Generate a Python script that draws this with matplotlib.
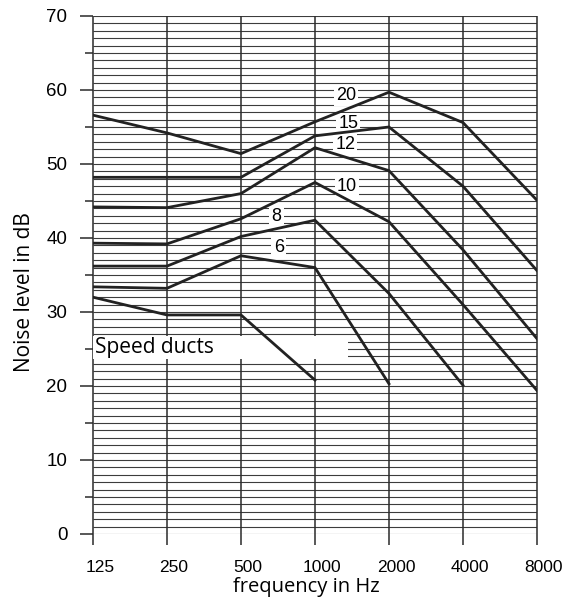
import matplotlib.pyplot as plt
import matplotlib.transforms as mtrans
from matplotlib.patches import Rectangle

# frequency bands (evenly spaced on the chart)
freqs = ['125', '250', '500', '1000', '2000', '4000', '8000']

# noise level in dB per duct speed (m/s)
noise_20 = [56.6, 54.2, 51.4, 55.7, 59.7, 55.6, 45.1]
noise_15 = [48.2, 48.2, 48.2, 53.8, 55.0, 47.0, 35.6]
noise_12 = [44.2, 44.1, 46.0, 52.2, 49.1, 38.4, 26.4]
noise_10 = [39.3, 39.2, 42.6, 47.5, 42.2, 31.0, 19.4]
noise_8 = [36.2, 36.2, 40.2, 42.4, 32.5, 20.1]
noise_6 = [33.4, 33.2, 37.6, 36.0, 20.3]
noise_low = [32.0, 29.6, 29.6, 20.8]

curves = [noise_20, noise_15, noise_12, noise_10, noise_8, noise_6, noise_low]

fig = plt.figure(figsize=(5.67, 6.01), dpi=100)
ax = fig.add_axes([0.164, 0.1115, 0.783, 0.8619])
ax.set_xlim(0, 6)
ax.set_ylim(0, 70)

# grid: a line every dB, plus the frequency lines running below the axis
ax.hlines(range(0, 71), 0, 6, color='#3c3c3c', lw=0.8, zorder=1)
ax.vlines(range(len(freqs)), -1.5, 70, color='#2a2a2a', lw=1.1,
          zorder=1, clip_on=False)

for s in ax.spines.values():
    s.set_visible(False)

ax.set_xticks(range(len(freqs)))
ax.set_xticklabels(freqs, fontfamily='Liberation Sans', fontsize=12.5)
ax.tick_params(axis='x', length=0, pad=18.5)
# labels sit a little right of their lines in the original
shift = mtrans.ScaledTranslation(7 / 100, 0, fig.dpi_scale_trans)
for lab in ax.get_xticklabels():
    lab.set_transform(lab.get_transform() + shift)

ax.set_yticks(range(0, 71, 10))
ax.set_yticks(range(5, 70, 10), minor=True)
ax.set_yticklabels([str(v) for v in range(0, 71, 10)],
                   fontfamily='Liberation Sans', fontsize=13.5)
ax.tick_params(axis='y', which='major', length=9.4, width=1.1,
               color='#2a2a2a', pad=9)
ax.tick_params(axis='y', which='minor', length=5.8, width=1.1,
               color='#2a2a2a')

# "Speed ducts" box covers the grid
ax.add_patch(Rectangle((0, 23.65), 3.45, 3.15, facecolor='white',
                       edgecolor='none', zorder=2, clip_on=False))
ax.text(0.03, 25.2, 'Speed ducts', fontfamily='Open Sans', fontsize=15,
        va='center', ha='left', zorder=3)

for c in curves:
    ax.plot(range(len(c)), c, color='#222222', lw=2, zorder=4,
            solid_joinstyle='miter')

# speed labels
lab_pos = [('20', 3.42, 59.25), ('15', 3.45, 55.45), ('12', 3.41, 52.7),
           ('10', 3.43, 46.95), ('8', 2.48, 42.85), ('6', 2.51, 38.7)]
for t, x, y in lab_pos:
    ax.text(x, y, t, fontfamily='Liberation Sans', fontsize=13,
            ha='center', va='center', zorder=3,
            bbox=dict(facecolor='white', edgecolor='none', pad=1.5))

ax.set_xlabel('frequency in Hz', fontfamily='Open Sans', fontsize=14.5,
              va='center')
ax.xaxis.set_label_coords(0.48, -0.102)
ax.set_ylabel('Noise level in dB', fontfamily='Open Sans', fontsize=15,
              va='center')
ax.yaxis.set_label_coords(-0.155, 0.468)

fig.savefig('out.png', dpi=100)
